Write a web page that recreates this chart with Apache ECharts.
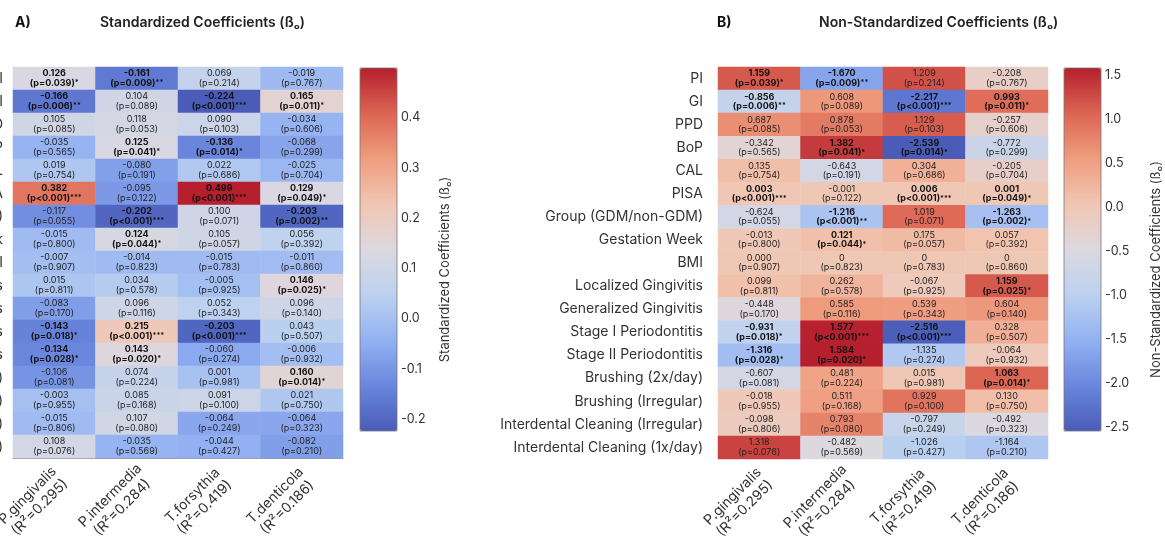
<!DOCTYPE html>
<html><head><meta charset="utf-8">
<script src="https://cdn.jsdelivr.net/npm/echarts@6/dist/echarts.min.js"></script>
<style>html,body{margin:0;padding:0;background:#fff}#c{width:1165px;height:537px}</style>
</head><body><div id="c"></div>
<script>
const rows = ['PI','GI','PPD','BoP','CAL','PISA','Group (GDM/non-GDM)','Gestation Week','BMI','Localized Gingivitis','Generalized Gingivitis','Stage I Periodontitis','Stage II Periodontitis','Brushing (2x/day)','Brushing (Irregular)','Interdental Cleaning (Irregular)','Interdental Cleaning (1x/day)'];
const taxa = ['P.gingivalis','P.intermedia','T.forsythia','T.denticola'];
const r2 = ['0.295','0.284','0.419','0.186'];

const stdBeta = [
 ['0.126','-0.161','0.069','-0.019'],
 ['-0.166','0.104','-0.224','0.165'],
 ['0.105','0.118','0.090','-0.034'],
 ['-0.035','0.125','-0.136','-0.068'],
 ['0.019','-0.080','0.022','-0.025'],
 ['0.382','-0.095','0.499','0.129'],
 ['-0.117','-0.202','0.100','-0.203'],
 ['-0.015','0.124','0.105','0.056'],
 ['-0.007','-0.014','-0.015','-0.011'],
 ['0.015','0.034','-0.005','0.146'],
 ['-0.083','0.096','0.052','0.096'],
 ['-0.143','0.215','-0.203','0.043'],
 ['-0.134','0.143','-0.060','-0.006'],
 ['-0.106','0.074','0.001','0.160'],
 ['-0.003','0.085','0.091','0.021'],
 ['-0.015','0.107','-0.064','-0.064'],
 ['0.108','-0.035','-0.044','-0.082']
];
const pValues = [
 ['=0.039','=0.009','=0.214','=0.767'],
 ['=0.006','=0.089','<0.001','=0.011'],
 ['=0.085','=0.053','=0.103','=0.606'],
 ['=0.565','=0.041','=0.014','=0.299'],
 ['=0.754','=0.191','=0.686','=0.704'],
 ['<0.001','=0.122','<0.001','=0.049'],
 ['=0.055','<0.001','=0.071','=0.002'],
 ['=0.800','=0.044','=0.057','=0.392'],
 ['=0.907','=0.823','=0.783','=0.860'],
 ['=0.811','=0.578','=0.925','=0.025'],
 ['=0.170','=0.116','=0.343','=0.140'],
 ['=0.018','<0.001','<0.001','=0.507'],
 ['=0.028','=0.020','=0.274','=0.932'],
 ['=0.081','=0.224','=0.981','=0.014'],
 ['=0.955','=0.168','=0.100','=0.750'],
 ['=0.806','=0.080','=0.249','=0.323'],
 ['=0.076','=0.569','=0.427','=0.210']
];
const stdStars = [
 ['*','**','',''],
 ['**','','***','*'],
 ['','','',''],
 ['','*','*',''],
 ['','','',''],
 ['***','','***','*'],
 ['','***','','**'],
 ['','*','',''],
 ['','','',''],
 ['','','','*'],
 ['','','',''],
 ['*','***','***',''],
 ['*','*','',''],
 ['','','','*'],
 ['','','',''],
 ['','','',''],
 ['','','','']
];
const nsBeta = [
 ['1.159','-1.670','1.209','-0.208'],
 ['-0.856','0.608','-2.217','0.993'],
 ['0.687','0.878','1.129','-0.257'],
 ['-0.342','1.382','-2.539','-0.772'],
 ['0.135','-0.643','0.304','-0.205'],
 ['0.003','-0.001','0.006','0.001'],
 ['-0.624','-1.216','1.019','-1.263'],
 ['-0.013','0.121','0.175','0.057'],
 ['0.000','0','0','0'],
 ['0.099','0.262','-0.067','1.159'],
 ['-0.448','0.585','0.539','0.604'],
 ['-0.931','1.577','-2.516','0.328'],
 ['-1.316','1.584','-1.135','-0.064'],
 ['-0.607','0.481','0.015','1.063'],
 ['-0.018','0.511','0.929','0.130'],
 ['-0.098','0.793','-0.797','-0.492'],
 ['1.318','-0.482','-1.026','-1.164']
];
const nsStars = [
 ['*','**','',''],
 ['**','','***','*'],
 ['','','',''],
 ['','*','*',''],
 ['','','',''],
 ['***','','***','*'],
 ['','**','','*'],
 ['','*','',''],
 ['','','',''],
 ['','','','*'],
 ['','','',''],
 ['*','***','***',''],
 ['*','*','',''],
 ['','','','*'],
 ['','','',''],
 ['','','',''],
 ['','','','']
];
const stdTicks = [-0.2,-0.1,0.0,0.1,0.2,0.3,0.4];
const nsTicks = [-2.5,-2.0,-1.5,-1.0,-0.5,0.0,0.5,1.0,1.5];
const stdRange = [-0.224, 0.499];
const nsRange = [-2.539, 1.584];

const coolwarm = ['#4a5cb8','#6a86dd','#93b1f2','#bcd1ef','#dcd8e0','#f1c6b2','#ef9d80','#dc6553','#b61f2e'];
const FONT = 'Inter';

function buildData(beta){
  const out = [];
  for (let r = 0; r < rows.length; r++)
    for (let c = 0; c < taxa.length; c++)
      out.push([c, r, parseFloat(beta[r][c])]);
  return out;
}
function makeLabel(beta, stars){
  return function(p){
    const c = p.value[0], r = p.value[1];
    const pv = '(p' + pValues[r][c] + ')';
    if (stars[r][c]) return '{bb|' + beta[r][c] + '}\n{bp|' + pv + '}{st|' + stars[r][c] + '}';
    return '{nb|' + beta[r][c] + '}\n{np|' + pv + '}';
  };
}
const cellRich = {
  nb:{fontSize:9, color:'#222', lineHeight:9.5, fontFamily:FONT},
  np:{fontSize:9, color:'#222', lineHeight:9.5, fontFamily:FONT},
  bb:{fontSize:9, color:'#111', lineHeight:9.5, fontWeight:'bold', fontFamily:FONT},
  bp:{fontSize:9, color:'#111', lineHeight:9.5, fontWeight:'bold', fontFamily:FONT},
  st:{fontSize:7, color:'#111', lineHeight:9.5, fontWeight:'bold', fontFamily:FONT}
};
const xLabel = {
  rotate:45, interval:0, margin:23, align:'center', verticalAlign:'middle', padding:[0,58,0,0],
  color:'#333', fontFamily:FONT,
  formatter:(v,i)=>'{a|' + v + '}\n{a|(R\u00b2=' + r2[i] + ')}',
  rich:{a:{fontSize:14, lineHeight:17, color:'#333', fontFamily:FONT}}
};
function catX(grid, line){
  return {type:'category', gridIndex:grid, data:taxa, axisLabel:xLabel,
    axisTick:{show:true, inside:true, alignWithLabel:true, length:3, lineStyle:{color:'#444'}},
    axisLine:{show:line, lineStyle:{color:'#999', width:1}}, splitLine:{show:false}};
}
function catY(grid, line, margin){
  return {type:'category', gridIndex:grid, data:rows, inverse:true,
    axisLabel:{fontSize:14, color:'#333', margin:margin, fontFamily:FONT},
    axisTick:{show:true, inside:true, alignWithLabel:true, length:4, lineStyle:{color:'#444'}},
    axisLine:{show:line, lineStyle:{color:'#999', width:1}}, splitLine:{show:false}};
}
function cbarY(grid, rng, ticks, name, gap){
  return {type:'value', gridIndex:grid, position:'right', min:rng[0], max:rng[1],
    axisLine:{show:false}, splitLine:{show:false},
    axisTick:{show:true, length:4, customValues:ticks, lineStyle:{color:'#333'}},
    axisLabel:{show:true, customValues:ticks, formatter:v=>v.toFixed(1), fontSize:12.5, color:'#333', margin:4, fontFamily:FONT},
    name:name, nameLocation:'middle', nameRotate:90, nameGap:gap,
    nameTextStyle:{fontSize:13, color:'#333', fontFamily:FONT, padding:[0,40,0,0]}};
}
const gridBase = {containLabel:false, outerBoundsMode:'none'};

const chart = echarts.init(document.getElementById('c'), null, {renderer:'canvas'});
chart.setOption({
  backgroundColor:'#fff',
  animation:false,
  textStyle:{fontFamily:FONT},
  title:[
    {text:'A)', left:10, top:11, textStyle:{fontSize:14, fontWeight:'bold', color:'#111', fontFamily:FONT}},
    {text:'Standardized Coefficients (\u00df\u2092)', left:95, top:11, textStyle:{fontSize:14, fontWeight:600, color:'#222', fontFamily:FONT}},
    {text:'B)', left:712, top:11, textStyle:{fontSize:14, fontWeight:'bold', color:'#111', fontFamily:FONT}},
    {text:'Non-Standardized Coefficients (\u00df\u2092)', left:814, top:11, textStyle:{fontSize:14, fontWeight:600, color:'#222', fontFamily:FONT}}
  ],
  grid:[
    Object.assign({left:13, top:67, width:330, height:391}, gridBase),
    Object.assign({left:718, top:67, width:330, height:392}, gridBase),
    Object.assign({left:360, top:68, width:37, height:363, show:true, borderColor:'#777', borderWidth:0.8, backgroundColor:'transparent', z:6}, gridBase),
    Object.assign({left:1064, top:68, width:37, height:363, show:true, borderColor:'#777', borderWidth:0.8, backgroundColor:'transparent', z:6}, gridBase)
  ],
  xAxis:[
    catX(0, true),
    catX(1, false),
    {type:'value', gridIndex:2, show:false, min:0, max:1},
    {type:'value', gridIndex:3, show:false, min:0, max:1}
  ],
  yAxis:[
    catY(0, true, 10),
    catY(1, false, 15),
    cbarY(2, stdRange, stdTicks, 'Standardized Coefficients (\u00df\u2092)', 42),
    cbarY(3, nsRange, nsTicks, 'Non-Standardized Coefficients (\u00df\u2092)', 49)
  ],
  visualMap:[
    {type:'continuous', seriesIndex:0, min:stdRange[0], max:stdRange[1], calculable:false, show:true,
     orient:'vertical', left:360, top:68, itemWidth:37, itemHeight:363, padding:0, text:null, inRange:{color:coolwarm}, hoverLink:false},
    {type:'continuous', seriesIndex:1, min:nsRange[0], max:nsRange[1], calculable:false, show:true,
     orient:'vertical', left:1064, top:68, itemWidth:37, itemHeight:363, padding:0, text:null, inRange:{color:coolwarm}, hoverLink:false}
  ],
  series:[
    {type:'heatmap', xAxisIndex:0, yAxisIndex:0, data:buildData(stdBeta),
     label:{show:true, formatter:makeLabel(stdBeta, stdStars), rich:cellRich},
     itemStyle:{borderWidth:0}, emphasis:{disabled:true}},
    {type:'heatmap', xAxisIndex:1, yAxisIndex:1, data:buildData(nsBeta),
     label:{show:true, formatter:makeLabel(nsBeta, nsStars), rich:cellRich},
     itemStyle:{borderWidth:0}, emphasis:{disabled:true}}
  ]
});
</script>
</body></html>
